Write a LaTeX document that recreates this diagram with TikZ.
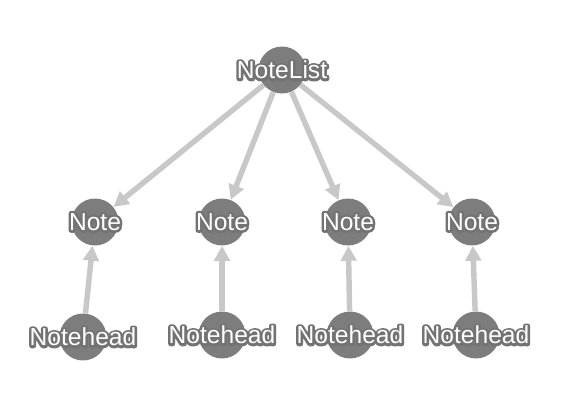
\documentclass[tikz,border=0pt]{standalone}
\usepackage{fontspec}
\setmainfont{Liberation Sans}
\usetikzlibrary{arrows.meta}
\usetikzlibrary{backgrounds}

\definecolor{nodegray}{RGB}{125,125,125}
\definecolor{edgegray}{RGB}{200,200,200}
% gray rim round the white names
\newcommand\rimmed[1]{\leavevmode\rlap{\special{pdf:literal direct 1 Tr 2.8 w 1 j 0.45 0.45 0.45 RG}#1\special{pdf:literal direct 0 Tr 0.4 w 0 j}}#1}

\begin{document}
\begin{tikzpicture}[
  x=0.02cm, y=-0.02cm,
  vertex/.style={circle, fill=nodegray, minimum size=0.94cm, inner sep=0pt},
  tag/.style={text=white, font=\fontsize{14}{16}\selectfont, inner sep=0pt},
  link/.style={draw=edgegray, line width=3.1pt, -{Triangle[length=8.5pt,width=8.8pt]}},
]
\useasboundingbox (0,0) rectangle (566,406);

\node (list) [vertex, label={[tag]center:\rimmed{NoteList}}] at (282,70) {};

\foreach \i/\nx/\hx/\hy in {1/95/83/337, 2/222/222/335, 3/348/350/335, 4/472/476/335} {
  \node (note\i) [vertex, label={[tag]center:\rimmed{Note}}] at (\nx,222) {};
  \node (head\i) [vertex, label={[tag]center:\rimmed{Notehead}}] at (\hx,\hy) {};
}

\begin{scope}[on background layer]
\foreach \i in {1,...,4} {
  \draw[link] (list) -- (note\i);
  \draw[link] (head\i) -- (note\i);
}
\end{scope}

\end{tikzpicture}
\end{document}
